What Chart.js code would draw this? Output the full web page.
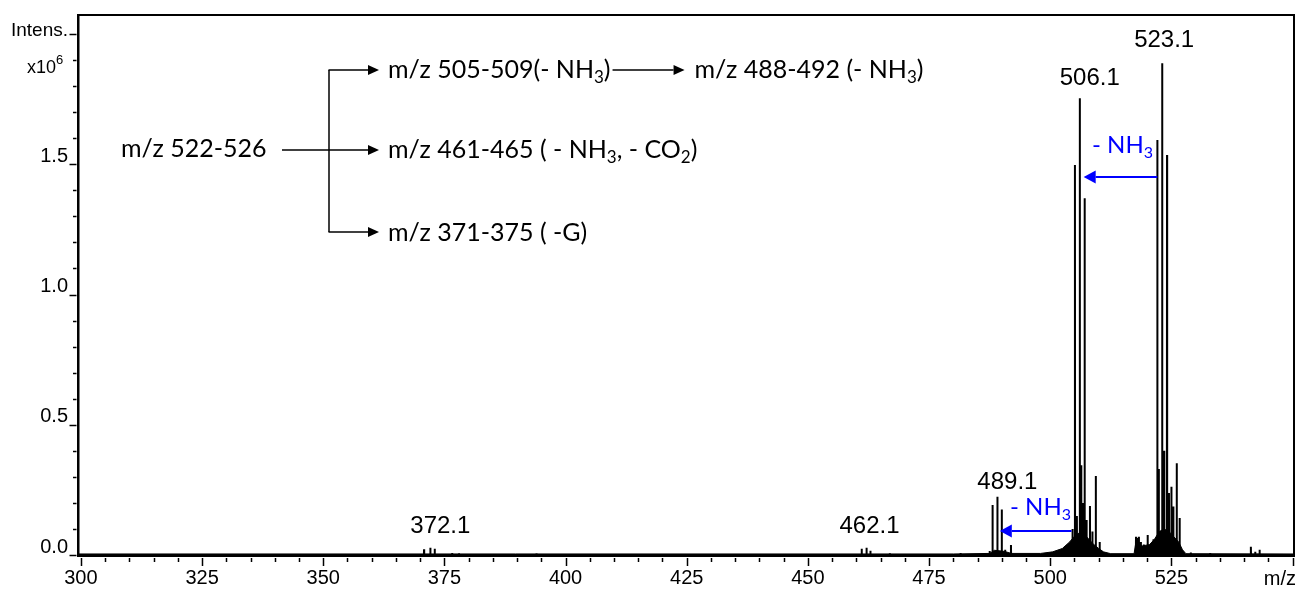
<!DOCTYPE html>
<html>
<head>
<meta charset="utf-8">
<title>MS/MS spectrum m/z 522-526</title>
<script src="https://cdn.jsdelivr.net/npm/chart.js@4.4.1/dist/chart.umd.min.js"></script>
<style>
  html, body { margin: 0; padding: 0; background: #fff; }
</style>
</head>
<body>
<canvas id="spec" width="1299" height="590"></canvas>
<script>
// centroid peaks: m/z and intensity (x10^6)
const peakMz = [
  370.8, 372.1, 373.0, 376.6, 378.0, 394.0,
  461.1, 462.1, 462.9, 466.9, 481.5,
  487.5, 488.1, 489.1, 490.0, 490.7, 491.9,
  504.6, 505.1, 505.5, 506.1, 506.4, 506.8, 507.1, 507.5, 508.2, 508.7, 509.4, 510.2,
  517.7, 518.0, 518.3, 518.7, 519.3, 520.1, 521.3,
  522.1, 522.4, 523.1, 523.5, 524.1, 524.5, 525.0, 525.4, 526.1, 526.7,
  529.0, 533.0, 541.4, 542.3, 543.2
];
const peakInt = [
  0.022, 0.028, 0.024, 0.008, 0.006, 0.006,
  0.024, 0.028, 0.016, 0.007, 0.008,
  0.015, 0.192, 0.224, 0.175, 0.020, 0.038,
  0.100, 1.497, 0.150, 1.753, 0.345, 0.200, 1.370, 0.134, 0.188, 0.090, 0.303, 0.050,
  0.070, 0.065, 0.070, 0.050, 0.040, 0.077, 0.060,
  1.593, 0.330, 1.888, 0.400, 1.536, 0.238, 0.262, 0.186, 0.352, 0.142,
  0.010, 0.008, 0.032, 0.012, 0.020
];

// unresolved background under the isotope clusters
const humpMz  = [299.4, 480, 487.5, 488.5, 490.5, 492, 498, 500.5, 502.5, 504, 505, 506, 507, 508, 509, 510, 511, 512.5,
                 517.3, 517.6, 519, 520.5, 521.5, 522.5, 523.5, 524.5, 525.5, 526.5, 527.3, 528, 550.3];
const humpInt = [0.004, 0.004, 0.006, 0.018, 0.014, 0.006, 0.006, 0.012, 0.025, 0.05, 0.072, 0.085, 0.08, 0.06, 0.04, 0.025, 0.012, 0.005,
                 0.005, 0.04, 0.035, 0.04, 0.06, 0.09, 0.1, 0.09, 0.07, 0.05, 0.02, 0.005, 0.004];

const xLabels = [300, 325, 350, 375, 400, 425, 450, 475, 500, 525];
const yLabels = [0.0, 0.5, 1.0, 1.5];
const peakLabels = [372.1, 462.1, 489.1, 506.1, 523.1];

const sticks = [];
peakMz.forEach((mz, i) => {
  sticks.push({x: mz - 0.03, y: 0}, {x: mz, y: peakInt[i]}, {x: mz + 0.03, y: 0});
});
const hump = humpMz.map((mz, i) => ({x: mz, y: humpInt[i]}));

const ARIAL = '"Liberation Sans", Arial, sans-serif';
const SCHEME = 'Lato, "Open Sans", sans-serif';

// text with subscript pieces: parts = [[text, isSub], ...]
function drawRuns(ctx, x, y, parts, size, color) {
  let cx = x;
  ctx.fillStyle = color;
  ctx.textAlign = 'left';
  ctx.textBaseline = 'alphabetic';
  for (const [t, sub] of parts) {
    ctx.font = (sub ? Math.round(size * 0.66) : size) + 'px ' + SCHEME;
    ctx.fillText(t, cx, sub ? y + size * 0.2 : y);
    cx += ctx.measureText(t).width;
  }
  return cx;
}

function arrow(ctx, x1, y, x2, color, lw, hl, hw) {
  const dir = x2 > x1 ? 1 : -1;
  ctx.strokeStyle = color;
  ctx.fillStyle = color;
  ctx.lineWidth = lw;
  ctx.beginPath();
  ctx.moveTo(x1, y);
  ctx.lineTo(x2 - dir * hl, y);
  ctx.stroke();
  ctx.beginPath();
  ctx.moveTo(x2, y);
  ctx.lineTo(x2 - dir * hl, y - hw);
  ctx.lineTo(x2 - dir * hl, y + hw);
  ctx.closePath();
  ctx.fill();
}

// label offsets (px) relative to the labelled peak top
const labelShift = {372.1: [10, 15], 462.1: [3, 15], 489.1: [10, 8], 506.1: [10, 13], 523.1: [2, 16]};

const decor = {
  id: 'decor',
  afterDraw(chart) {
    const {ctx, chartArea: a, scales: {x, y}} = chart;
    ctx.save();

    // frame top / right
    ctx.strokeStyle = '#000';
    ctx.lineWidth = 2;
    ctx.beginPath();
    ctx.moveTo(a.left, a.top);
    ctx.lineTo(a.right, a.top);
    ctx.lineTo(a.right, a.bottom);
    ctx.stroke();

    // x tick marks, major every 25
    ctx.lineWidth = 1.5;
    for (let v = 300; v <= 550; v += 5) {
      const px = Math.round(x.getPixelForValue(v)) + 0.5;
      const len = v % 25 === 0 ? 8 : 4;
      ctx.beginPath();
      ctx.moveTo(px, a.bottom + 3);
      ctx.lineTo(px, a.bottom + 3 + len);
      ctx.stroke();
    }
    // y tick marks, major every 0.5
    for (let k = 0; k <= 20; k++) {
      const py = Math.round(y.getPixelForValue(k / 10)) + 0.5;
      const len = k % 5 === 0 ? 7 : 3.5;
      ctx.beginPath();
      ctx.moveTo(a.left - 1.5, py);
      ctx.lineTo(a.left - 1.5 - len, py);
      ctx.stroke();
    }

    // axis captions
    ctx.fillStyle = '#000';
    ctx.textBaseline = 'alphabetic';
    ctx.font = '19px ' + ARIAL;
    ctx.textAlign = 'right';
    ctx.fillText('Intens.', 68, y.getPixelForValue(2.0) + 2);
    ctx.font = '13px ' + ARIAL;
    ctx.textAlign = 'left';
    ctx.fillText('6', 56, y.getPixelForValue(1.9) + 4);
    ctx.font = '18px ' + ARIAL;
    ctx.textAlign = 'right';
    ctx.fillText('x10', 56, y.getPixelForValue(1.9) + 13);
    ctx.font = '20px ' + ARIAL;
    ctx.fillText('m/z', 1296, 585);

    // peak labels
    ctx.font = '24px ' + ARIAL;
    ctx.textAlign = 'center';
    peakLabels.forEach(v => {
      const i = peakMz.indexOf(v);
      const [dx, dy] = labelShift[v];
      ctx.fillText(v.toFixed(1), x.getPixelForValue(v) + dx, y.getPixelForValue(peakInt[i]) - dy);
    });

    // neutral loss arrows between clusters
    const blue = '#0000ff';
    const nh3 = [['- NH', false], ['3', true]];
    arrow(ctx, x.getPixelForValue(522.1), 177, x.getPixelForValue(506.9), blue, 2, 12, 6.5);
    drawRuns(ctx, 1092, 153, nh3, 24, blue);
    arrow(ctx, x.getPixelForValue(504.4), 531, x.getPixelForValue(489.6), blue, 2, 12, 6.5);
    drawRuns(ctx, 1010, 515, nh3, 24, blue);

    // fragmentation scheme
    const k = '#000';
    const fs = 25;
    drawRuns(ctx, 121, 157, [['m/z 522-526', false]], fs, k);
    ctx.lineWidth = 1.5;
    ctx.strokeStyle = k;
    ctx.beginPath();
    ctx.moveTo(329, 70);
    ctx.lineTo(329, 232);
    ctx.stroke();
    arrow(ctx, 282, 150, 379, k, 1.5, 11, 5);
    arrow(ctx, 328.5, 70, 379, k, 1.5, 11, 5);
    arrow(ctx, 328.5, 232, 379, k, 1.5, 11, 5);
    const end = drawRuns(ctx, 388, 78, [['m/z 505-509(- NH', false], ['3', true], [')', false]], fs, k);
    arrow(ctx, end + 2, 70, end + 74, k, 1.5, 11, 5);
    drawRuns(ctx, end + 84, 78, [['m/z 488-492 (- NH', false], ['3', true], [')', false]], fs, k);
    drawRuns(ctx, 388, 158, [['m/z 461-465 ( - NH', false], ['3', true], [', - CO', false], ['2', true], [')', false]], fs, k);
    drawRuns(ctx, 388, 241, [['m/z 371-375 ( -G)', false]], fs, k);

    ctx.restore();
  }
};

new Chart(document.getElementById('spec'), {
  type: 'line',
  data: {
    datasets: [
      { data: hump, borderColor: '#000', backgroundColor: '#000', borderWidth: 1, fill: 'origin', pointRadius: 0, tension: 0 },
      { data: sticks, borderColor: '#000', borderWidth: 2, fill: false, pointRadius: 0, tension: 0 }
    ]
  },
  options: {
    responsive: false,
    animation: false,
    devicePixelRatio: 1,
    layout: { padding: { left: 0, top: 15, right: 5, bottom: 0 } },
    plugins: { legend: { display: false }, tooltip: { enabled: false } },
    scales: {
      x: {
        type: 'linear', min: 299.4, max: 550.3,
        grid: { display: false, drawTicks: false },
        border: { color: '#000', width: 3 },
        ticks: {
          autoSkip: false, maxRotation: 0, padding: 11, color: '#000',
          font: { family: ARIAL, size: 20 }
        },
        afterBuildTicks(s) { s.ticks = xLabels.map(v => ({value: v})); },
        afterFit(s) { s.height = 35; s.paddingLeft = 0; s.paddingRight = 0; }
      },
      y: {
        min: 0, max: 2.073,
        grid: { display: false, drawTicks: false },
        border: { color: '#000', width: 2.5 },
        ticks: {
          autoSkip: false, padding: 10, color: '#000', labelOffset: -8,
          font: { family: ARIAL, size: 20 },
          callback: v => v.toFixed(1)
        },
        afterBuildTicks(s) { s.ticks = yLabels.map(v => ({value: v})); },
        afterFit(s) { s.width = 78; s.paddingTop = 0; s.paddingBottom = 0; }
      }
    }
  },
  plugins: [decor]
});
</script>
</body>
</html>
